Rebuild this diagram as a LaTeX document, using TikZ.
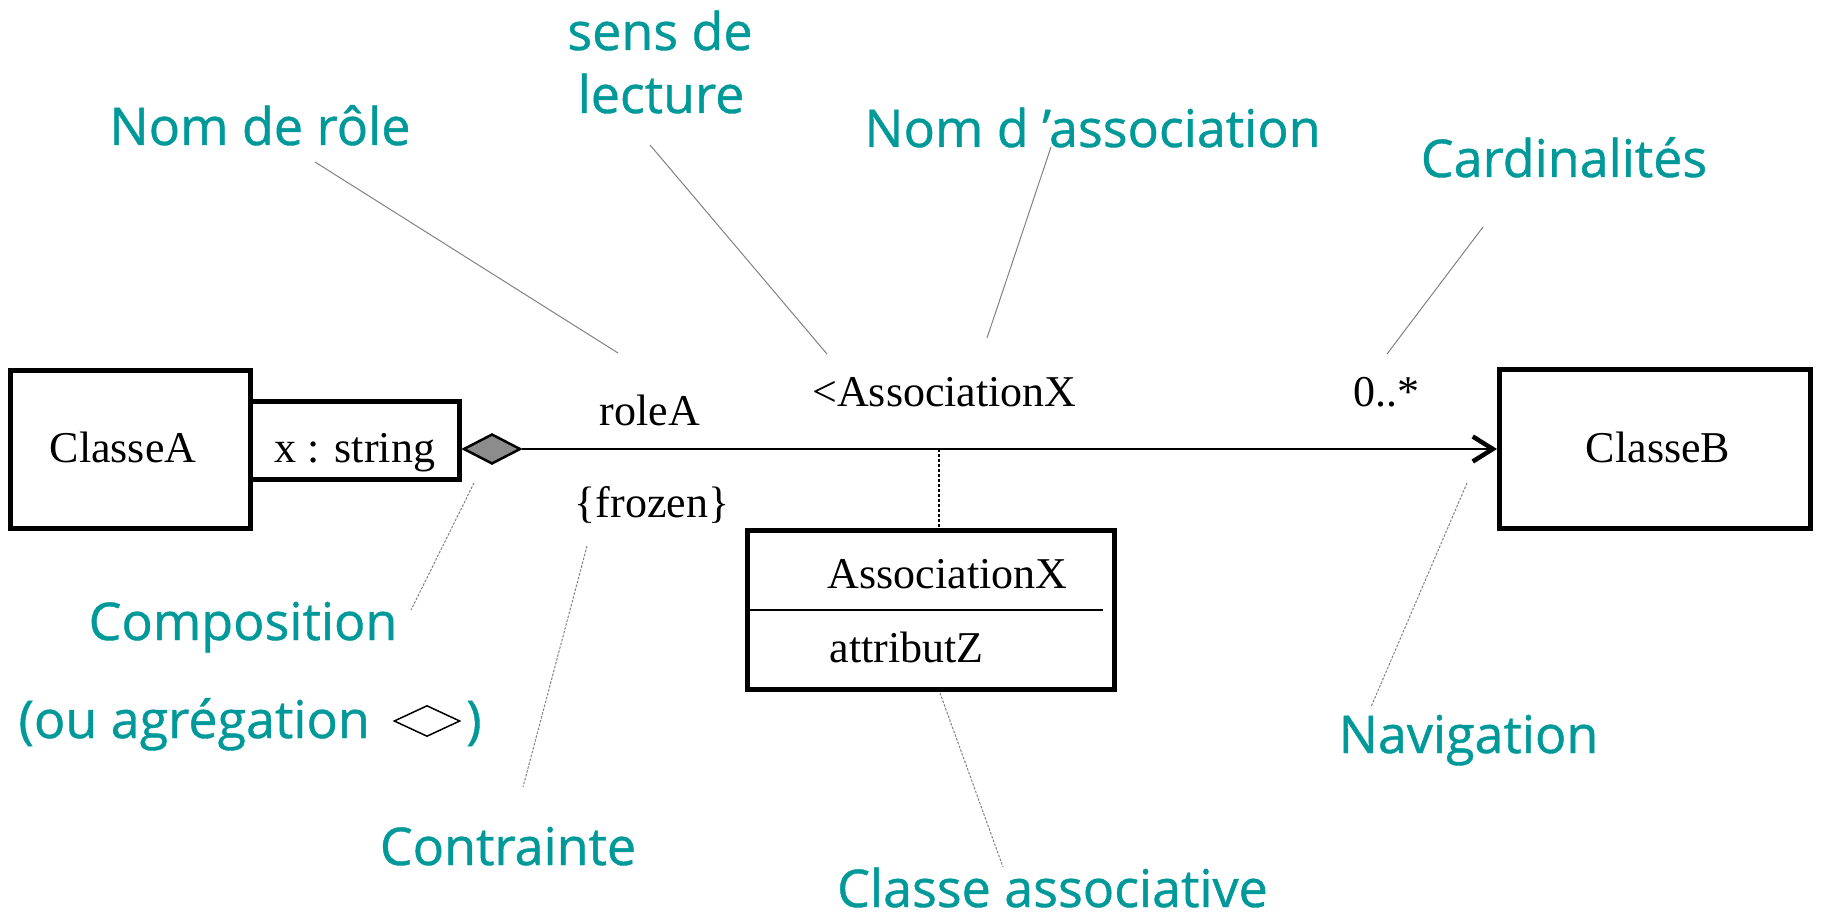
\documentclass[tikz,border=0pt]{standalone}
\usepackage{fontspec}
\setmainfont{Liberation Serif}
\newfontfamily\notefont[FakeBold=0.8]{Open Sans}
\usetikzlibrary{shapes.geometric,arrows.meta}
\definecolor{noteteal}{RGB}{0,153,153}
\definecolor{compgray}{RGB}{140,140,140}
\definecolor{leadgray}{RGB}{130,130,130}
\tikzset{
  umlbox/.style={draw, line width=5pt, inner sep=0pt},
  umltext/.style={font=\fontsize{44}{50}\selectfont, anchor=base, inner sep=0pt},
  note/.style={text=noteteal, font=\notefont\fontsize{52}{60}\selectfont, anchor=base, inner sep=0pt},
  leader/.style={draw=leadgray, line width=1pt},
  dleader/.style={leader, dash pattern=on 2.5pt off 1.5pt},
}
\begin{document}
\begin{tikzpicture}[x=1pt,y=-1pt]
\useasboundingbox[fill=white] (0,0) rectangle (1822,917);

% UML boxes
\node[umlbox, minimum width=240pt, minimum height=158pt] (A) at (130.5,449.5) {};
\node[umlbox, minimum width=209pt, minimum height=78pt] (attr) at (355,440.5) {};
\node[umlbox, minimum width=311pt, minimum height=159pt] (B) at (1655,449) {};
\node[umlbox, minimum width=367pt, minimum height=159pt] (C) at (931,610) {};
\draw[line width=2.5pt] (C.west) -- (1103,610);

% composition diamond and association
\node[diamond, draw, line width=2.5pt, fill=compgray, inner sep=0pt,
      minimum width=57pt, minimum height=30pt] (comp) at (492,449) {};
\draw[line width=2.5pt, -{Straight Barb[length=20pt,width=25pt,line width=4.5pt]}] (comp.east) -- (B.west);
\coordinate (mid) at (939,449);
\draw[line width=2.5pt, dash pattern=on 2.5pt off 2.5pt] (mid) -- (mid |- C.north);

% UML texts
\node[umltext] (tA) at (123,462) {ClasseA};
\node[umltext] (tattr) at (355,462) {x : string};
\node[umltext] (tB) at (1658,462) {ClasseB};
\node[umltext] (trole) at (650,425) {roleA};
\node[umltext] (tassoc) at (944.5,406) {<AssociationX};
\node[umltext] (tcard) at (1386.5,406) {0..*};
\node[umltext] (tfrozen) at (652,517) {\{frozen\}};
\node[umltext] (tCname) at (947.5,588) {AssociationX};
\node[umltext] (tCattr) at (906.5,662) {attributZ};

% annotation labels
\node[note] (nrole) at (260,145) {Nom de rôle};
\node[note] (nsens1) at (660,50) {sens de};
\node[note] (nsens2) at (661,113) {lecture};
\node[note] (nassoc) at (1092.5,147) {Nom d ’association};
\node[note] (ncard) at (1564,177) {Cardinalités};
\node[note] (ncomp) at (243,640) {Composition};
\node[note, anchor=base east] (nagg1) at (370,738) {(ou agrégation};
\node[diamond, draw, line width=1.5pt, inner sep=0pt,
      minimum width=66pt, minimum height=31pt] (agg) at (427,721) {};
\node[note, anchor=base west] (nagg2) at (466,738) {)};
\node[note] (ncontr) at (508,865) {Contrainte};
\node[note] (nclass) at (1052.5,907) {Classe associative};
\node[note] (nnav) at (1468.5,753) {Navigation};

% leader lines
\coordinate (l1a) at (315,162);  \coordinate (l1b) at (618,353);
\coordinate (l2a) at (650,145);  \coordinate (l2b) at (827,354);
\coordinate (l3a) at (1051,147); \coordinate (l3b) at (987,338);
\coordinate (l4a) at (1483,227); \coordinate (l4b) at (1387,354);
\coordinate (l5a) at (474,483);  \coordinate (l5b) at (411,610);
\coordinate (l6a) at (587,546);  \coordinate (l6b) at (523,787);
\coordinate (l7a) at (940,693);  \coordinate (l7b) at (1003,867);
\coordinate (l8a) at (1467,483); \coordinate (l8b) at (1371,707);
\draw[leader] (l1a) -- (l1b);
\draw[leader] (l2a) -- (l2b);
\draw[leader] (l3a) -- (l3b);
\draw[leader] (l4a) -- (l4b);
\draw[dleader] (l5a) -- (l5b);
\draw[dleader] (l6a) -- (l6b);
\draw[dleader] (l7a) -- (l7b);
\draw[dleader] (l8a) -- (l8b);
\end{tikzpicture}
\end{document}
